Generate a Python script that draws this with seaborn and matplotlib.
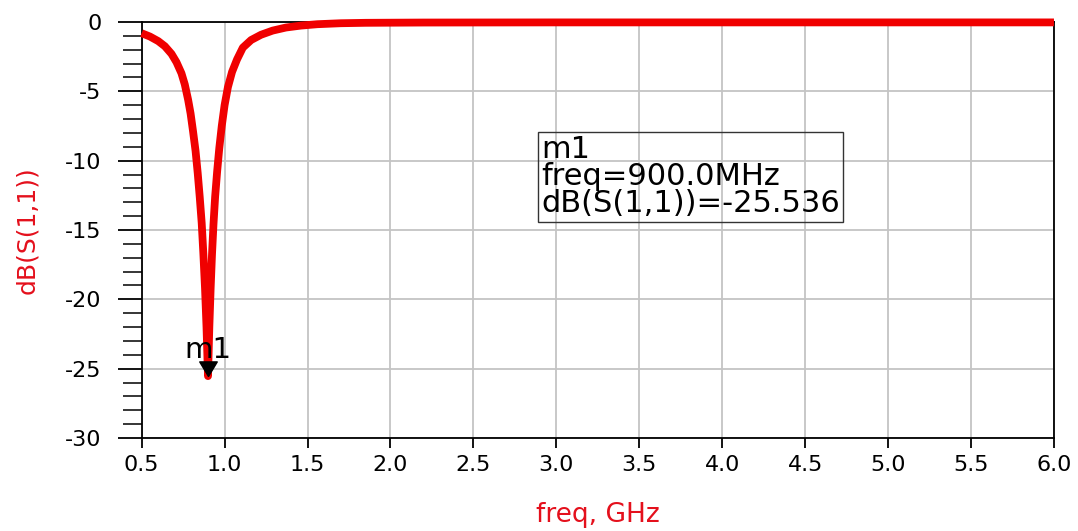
import matplotlib
matplotlib.use("Agg")
import matplotlib.pyplot as plt
import seaborn as sns
import numpy as np
from matplotlib.ticker import MultipleLocator, FixedLocator

# ---- data ----
freq_ghz = [0.50, 0.55, 0.60, 0.64, 0.68, 0.71, 0.74, 0.76, 0.78, 0.795, 0.81, 0.825,
            0.838, 0.85, 0.862, 0.872, 0.882, 0.891, 0.90,
            0.908, 0.916, 0.924, 0.933, 0.943, 0.955, 0.968, 0.983, 1.00, 1.02, 1.045,
            1.075, 1.11, 1.16, 1.22, 1.29, 1.37, 1.46, 1.56, 1.70, 1.85, 2.2, 3.0,
            4.0, 5.0, 6.0]
s11_db = [-0.81, -1.05, -1.38, -1.75, -2.3, -2.9, -3.7, -4.5, -5.6, -6.6, -7.9, -9.3,
          -10.9, -12.6, -14.5, -16.7, -19.2, -22.0, -25.536,
          -22.0, -19.2, -16.8, -14.6, -12.6, -10.8, -9.1, -7.5, -6.0, -4.7, -3.6,
          -2.7, -1.85, -1.3, -0.92, -0.62, -0.40, -0.26, -0.16, -0.09, -0.06, -0.04,
          -0.03, -0.03, -0.03, -0.03]
x_ticks = [0.5, 1.0, 1.5, 2.0, 2.5, 3.0, 3.5, 4.0, 4.5, 5.0, 5.5, 6.0]
y_ticks = [0, -5, -10, -15, -20, -25, -30]
marker_freq = 0.90
marker_db = -25.536
marker_name = "m1"
marker_lines = ["m1", "freq=900.0MHz", "dB(S(1,1))=-25.536"]

sns.set_theme(style="white")
plt.rcParams["font.family"] = ["DejaVu Sans"]
plt.rcParams["axes.unicode_minus"] = False

RED = "#f00000"
LABEL_RED = "#e4101c"

fig = plt.figure(figsize=(10.78, 5.31), dpi=100)
ax = fig.add_axes([0.1314, 0.1751, 0.8463, 0.7835])

sns.lineplot(x=freq_ghz, y=s11_db, ax=ax, color=RED, linewidth=5.6,
             sort=False, estimator=None, clip_on=False, zorder=5)
for ln in ax.lines:
    ln.set_solid_joinstyle("round")
    ln.set_solid_capstyle("butt")

# marker triangle with tip at the data point
tri = [(0, 0), (-0.6, 1.0), (0.6, 1.0), (0, 0)]
ax.plot([marker_freq], [marker_db], marker=tri, markersize=21, color="black",
        linestyle="none", zorder=6, clip_on=False)
ax.annotate(marker_name, xy=(marker_freq, marker_db), xytext=(0, 19),
            textcoords="offset points", ha="center", va="center",
            fontsize=21, color="black", zorder=7)

ax.set_xlim(0.5, 6.0)
ax.set_ylim(-30, 0)
ax.xaxis.set_major_locator(FixedLocator(x_ticks))
ax.set_xticklabels([f"{v:.1f}" for v in x_ticks])
ax.yaxis.set_major_locator(FixedLocator(y_ticks))
ax.set_yticklabels([str(v) for v in y_ticks])
ax.yaxis.set_minor_locator(MultipleLocator(1))

ax.grid(True, which="major", color="#c4c4c4", linewidth=1.3)
ax.set_axisbelow(True)
for sp in ax.spines.values():
    sp.set_color("black")
    sp.set_linewidth(1.3)
    sp.set_visible(True)

ax.tick_params(axis="x", which="major", direction="out", length=7, width=1.3,
               color="black", labelsize=16, pad=5, labelcolor="black", bottom=True)
ax.tick_params(axis="y", which="major", direction="out", length=17, width=1.3,
               color="black", labelsize=16, pad=12, labelcolor="black", left=True)
ax.tick_params(axis="y", which="minor", direction="out", length=13.5, width=1.1,
               color="black", left=True)

ax.set_xlabel("freq, GHz", fontsize=19, color=LABEL_RED, va="center")
ax.xaxis.set_label_coords(0.5, -0.185)
ax.set_ylabel("dB(S(1,1))", fontsize=18, color=LABEL_RED, va="center")
ax.yaxis.set_label_coords(-0.1257, 0.5)

ax.text(0.4378, 0.728, "\n".join(marker_lines), transform=ax.transAxes,
        ha="left", va="top", fontsize=22, color="black", linespacing=0.92,
        bbox=dict(boxstyle="square,pad=0.1", facecolor="none",
                  edgecolor="#333333", linewidth=1.0), zorder=8)

fig.savefig("out.png", dpi=100)
